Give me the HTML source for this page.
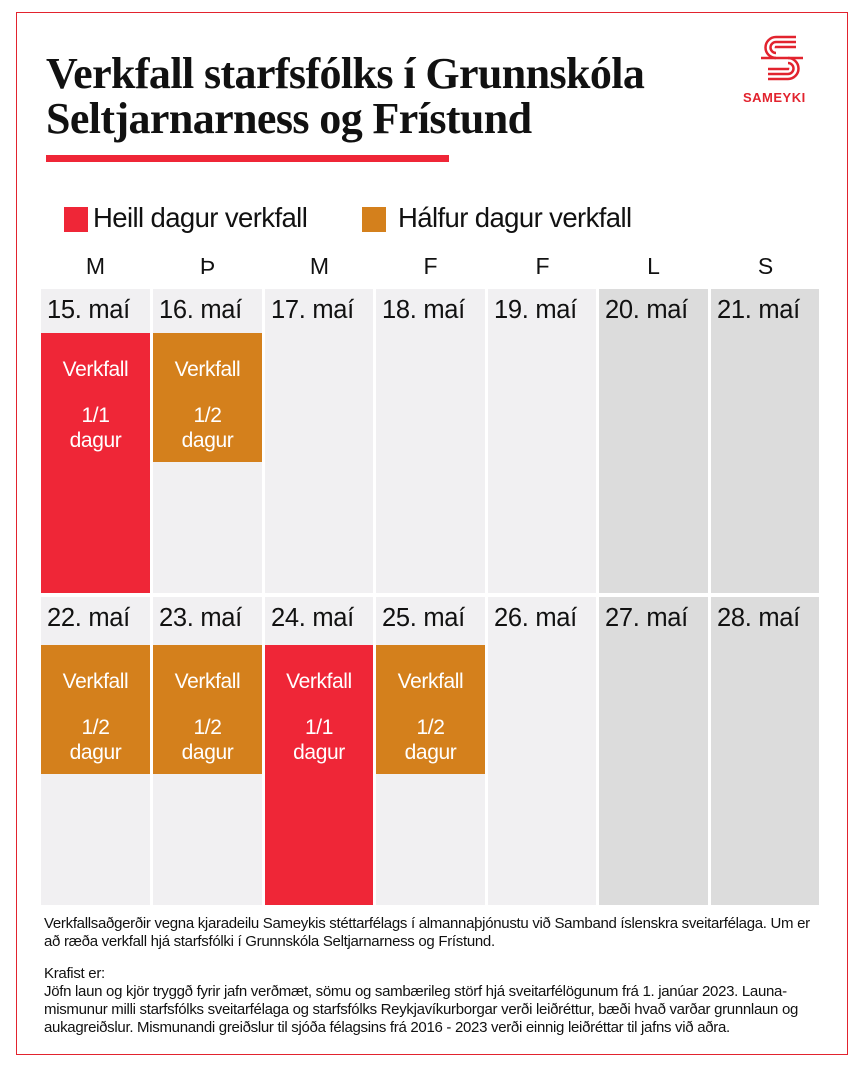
<!DOCTYPE html>
<html><head><meta charset="utf-8"><style>
body{margin:0;width:858px;height:1080px;background:#fff;position:relative;overflow:hidden;font-family:"Liberation Sans",sans-serif;}
.a{position:absolute;}
.t{font-family:"Liberation Serif",serif;font-weight:bold;font-size:44px;color:#111;white-space:nowrap;letter-spacing:-0.6px}
.cell{position:absolute;background:#f1f0f2;}
.we{background:#dcdcdc;}
.d{position:absolute;left:6px;top:7px;font-size:25.5px;color:#111;letter-spacing:-0.3px;white-space:nowrap}
.b{position:absolute;left:0;width:100%;color:#fff;text-align:center;font-size:21px;letter-spacing:-0.4px;line-height:25px}
.r{background:#ef2637}.o{background:#d4801c}
.dl{position:absolute;top:253px;font-size:23px;color:#111;width:109px;text-align:center}
.f{font-size:15px;color:#111;line-height:18px;letter-spacing:-0.3px;white-space:nowrap}
</style></head><body>
<div class="a" style="left:16px;top:12px;width:830px;height:1041px;border:1.5px solid #e2232e;"></div>
<div class="a t" style="left:46px;top:48px;">Verkfall starfsfólks í Grunnskóla</div>
<div class="a t" style="left:46px;top:93px;">Seltjarnarness og Frístund</div>
<div class="a" style="left:46px;top:155px;width:403px;height:7px;background:#ef2637"></div>
<svg class="a" style="left:758px;top:35px" width="48" height="46" viewBox="0 0 48 46" fill="none" stroke="#e2232e" stroke-width="2.5">
<path d="M38 2 H18 A10.5 10.5 0 0 0 18 23"/>
<path d="M38 7 H18 A5.5 5.5 0 0 0 18 18"/>
<path d="M38 12 H18 A1 1 0 0 0 18 13"/>
<path d="M3 23 H45"/>
<path d="M30 23 A10.5 10.5 0 0 1 30 44 H10"/>
<path d="M30 28 A5.5 5.5 0 0 1 30 39 H10"/>
<path d="M30 33 A1 1 0 0 1 30 34 H10"/>
</svg>
<div class="a" style="left:743px;top:90px;font-size:13px;font-weight:bold;color:#e2232e;letter-spacing:0.5px">SAMEYKI</div>
<div class="a" style="left:64px;top:207px;width:24px;height:25px;background:#ef2637"></div>
<div class="a" style="left:93px;top:202px;font-size:27.5px;color:#111;letter-spacing:-0.6px">Heill dagur verkfall</div>
<div class="a" style="left:362px;top:207px;width:24px;height:25px;background:#d4801c"></div>
<div class="a" style="left:398px;top:202px;font-size:27.5px;color:#111;letter-spacing:-0.6px">Hálfur dagur verkfall</div>
<div class="dl" style="left:41px">M</div><div class="dl" style="left:153px">Þ</div><div class="dl" style="left:265px">M</div><div class="dl" style="left:376px">F</div><div class="dl" style="left:488px">F</div><div class="dl" style="left:599px">L</div><div class="dl" style="left:711px">S</div>

<div class="cell" style="left:41px;top:289px;width:109px;height:304px"><div class="d">15. maí</div>
<div class="a r" style="left:0;top:44px;width:109px;height:260px"><div class="b" style="top:24px">Verkfall</div><div class="b" style="top:70px">1/1<br>dagur</div></div></div>
<div class="cell" style="left:153px;top:289px;width:109px;height:304px"><div class="d">16. maí</div>
<div class="a o" style="left:0;top:44px;width:109px;height:129px"><div class="b" style="top:24px">Verkfall</div><div class="b" style="top:70px">1/2<br>dagur</div></div></div>
<div class="cell" style="left:265px;top:289px;width:108px;height:304px"><div class="d">17. maí</div></div>
<div class="cell" style="left:376px;top:289px;width:109px;height:304px"><div class="d">18. maí</div></div>
<div class="cell" style="left:488px;top:289px;width:108px;height:304px"><div class="d">19. maí</div></div>
<div class="cell we" style="left:599px;top:289px;width:109px;height:304px"><div class="d">20. maí</div></div>
<div class="cell we" style="left:711px;top:289px;width:108px;height:304px"><div class="d">21. maí</div></div>

<div class="cell" style="left:41px;top:597px;width:109px;height:308px"><div class="d">22. maí</div>
<div class="a o" style="left:0;top:48px;width:109px;height:129px"><div class="b" style="top:24px">Verkfall</div><div class="b" style="top:70px">1/2<br>dagur</div></div></div>
<div class="cell" style="left:153px;top:597px;width:109px;height:308px"><div class="d">23. maí</div>
<div class="a o" style="left:0;top:48px;width:109px;height:129px"><div class="b" style="top:24px">Verkfall</div><div class="b" style="top:70px">1/2<br>dagur</div></div></div>
<div class="cell" style="left:265px;top:597px;width:108px;height:308px"><div class="d">24. maí</div>
<div class="a r" style="left:0;top:48px;width:108px;height:260px"><div class="b" style="top:24px">Verkfall</div><div class="b" style="top:70px">1/1<br>dagur</div></div></div>
<div class="cell" style="left:376px;top:597px;width:109px;height:308px"><div class="d">25. maí</div>
<div class="a o" style="left:0;top:48px;width:109px;height:129px"><div class="b" style="top:24px">Verkfall</div><div class="b" style="top:70px">1/2<br>dagur</div></div></div>
<div class="cell" style="left:488px;top:597px;width:108px;height:308px"><div class="d">26. maí</div></div>
<div class="cell we" style="left:599px;top:597px;width:109px;height:308px"><div class="d">27. maí</div></div>
<div class="cell we" style="left:711px;top:597px;width:108px;height:308px"><div class="d">28. maí</div></div>

<div class="a f" style="left:44px;top:915px">Verkfallsaðgerðir vegna kjaradeilu Sameykis stéttarfélags í almannaþjónustu við Samband íslenskra sveitarfélaga. Um er<br>að ræða verkfall hjá starfsfólki í Grunnskóla Seltjarnarness og Frístund.</div>
<div class="a f" style="left:44px;top:965px">Krafist er:<br>Jöfn laun og kjör tryggð fyrir jafn verðmæt, sömu og sambærileg störf hjá sveitarfélögunum frá 1. janúar 2023. Launa-<br>mismunur milli starfsfólks sveitarfélaga og starfsfólks Reykjavíkurborgar verði leiðréttur, bæði hvað varðar grunnlaun og<br>aukagreiðslur. Mismunandi greiðslur til sjóða félagsins frá 2016 - 2023 verði einnig leiðréttar til jafns við aðra.</div>
</body></html>
